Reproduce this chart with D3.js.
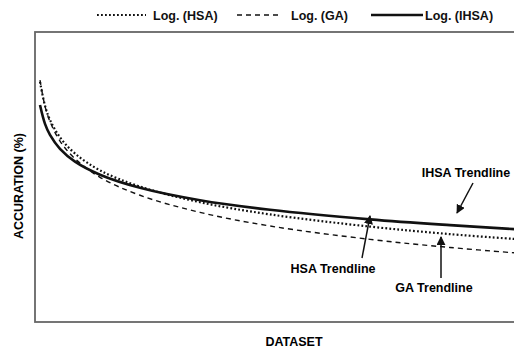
<!DOCTYPE html>
<html><head><meta charset="utf-8">
<script src="https://cdn.jsdelivr.net/npm/d3@7"></script>
<style>html,body{margin:0;padding:0;background:#fff;}svg{display:block;}</style>
</head><body><svg id="c" width="514" height="352"></svg>
<script>
// Dataset positions (x) where the trendlines were sampled
const dataset = [1, 2, 3, 5, 8, 13, 21, 33, 47, 67, 83, 97];
// Accuracy readings (%) for each trendline
const ihsa = [74.8, 68.3, 64.5, 59.7, 55.3, 50.8, 46.3, 42.0, 38.7, 35.4, 33.4, 31.9];
const hsa  = [82.8, 74.6, 69.7, 63.7, 58.1, 52.3, 46.7, 41.3, 37.1, 32.9, 30.3, 28.5];
const ga   = [83.4, 74.4, 69.1, 62.4, 56.3, 49.9, 43.7, 37.8, 33.1, 28.5, 25.7, 23.7];
const seriesNames = ["Log. (HSA)", "Log. (GA)", "Log. (IHSA)"];
const annotations = ["IHSA Trendline", "HSA Trendline", "GA Trendline"];

const svg = d3.select("#c");
const font = "'Liberation Sans', Arial, sans-serif";
const fs = 12.5;
const x = d3.scaleLinear().domain([0, 97]).range([35, 520]);
const y = d3.scaleLinear().domain([0, 100]).range([322, 32]);

// frame
svg.append("rect").attr("x", 35).attr("y", 32).attr("width", 500).attr("height", 290)
  .attr("fill", "none").attr("stroke", "#666").attr("stroke-width", 1.8);

const line = d3.line().x(d => x(d[0])).y(d => y(d[1])).curve(d3.curveCatmullRom.alpha(0.5));
const styles = [
  {data: hsa, w: 2.2, dash: "1.8,2.2"},
  {data: ga, w: 1.4, dash: "5,4"},
  {data: ihsa, w: 2.6, dash: null}
];
styles.forEach(s => {
  svg.append("path").datum(dataset.map((d, i) => [d, s.data[i]]))
    .attr("d", line).attr("fill", "none").attr("stroke", "#111")
    .attr("stroke-width", s.w).attr("stroke-dasharray", s.dash);
});

// legend
const leg = [
  {x1: 97, x2: 146, tx: 153},
  {x1: 237, x2: 281, tx: 291},
  {x1: 371, x2: 423, tx: 425}
];
leg.forEach((l, i) => {
  const s = styles[i];
  svg.append("line").attr("x1", l.x1).attr("x2", l.x2).attr("y1", 15).attr("y2", 15)
    .attr("stroke", "#111").attr("stroke-width", s.w).attr("stroke-dasharray", s.dash);
  svg.append("text").attr("x", l.tx).attr("y", 19.5).text(seriesNames[i])
    .attr("font-family", font).attr("font-weight", "bold").attr("font-size", fs).attr("fill", "#111");
});

// axis titles
svg.append("text").attr("x", 294).attr("y", 346).attr("text-anchor", "middle")
  .attr("font-family", font).attr("font-weight", "bold").attr("font-size", fs).text("DATASET");
svg.append("text").attr("transform", "translate(23,186) rotate(-90)").attr("text-anchor", "middle")
  .attr("font-family", font).attr("font-weight", "bold").attr("font-size", fs).text("ACCURATION (%)");

// annotations
const defs = svg.append("defs");
defs.append("marker").attr("id", "ah").attr("viewBox", "0 0 10 10").attr("refX", 9).attr("refY", 5)
  .attr("markerWidth", 9).attr("markerHeight", 9).attr("markerUnits", "userSpaceOnUse").attr("orient", "auto")
  .append("path").attr("d", "M0,0 L10,5 L0,10 Z").attr("fill", "#111");
const ann = [
  {tx: 466, ty: 177, ax1: 473, ay1: 183, ax2: 457, ay2: 213},
  {tx: 333, ty: 273, ax1: 362, ay1: 258, ax2: 370, ay2: 216},
  {tx: 434, ty: 292, ax1: 441, ay1: 278, ax2: 441, ay2: 237}
];
ann.forEach((a, i) => {
  svg.append("text").attr("x", a.tx).attr("y", a.ty).attr("text-anchor", "middle")
    .attr("font-family", font).attr("font-weight", "bold").attr("font-size", fs).text(annotations[i]);
  svg.append("line").attr("x1", a.ax1).attr("y1", a.ay1).attr("x2", a.ax2).attr("y2", a.ay2)
    .attr("stroke", "#111").attr("stroke-width", 1.5).attr("marker-end", "url(#ah)");
});
</script></body></html>
